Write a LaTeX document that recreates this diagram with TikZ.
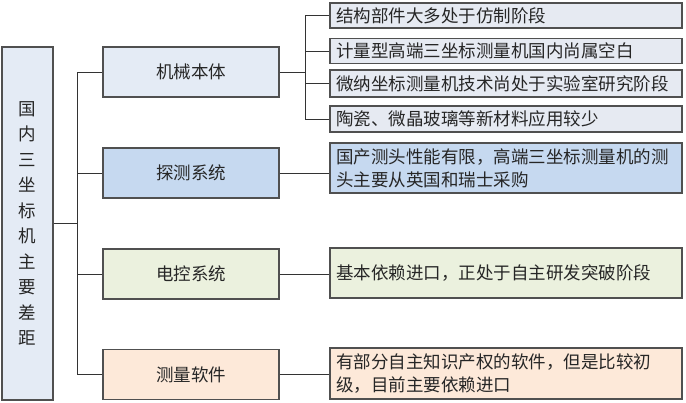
\documentclass[tikz,border=0pt]{standalone}
\usepackage{fontspec}
\setmainfont{Noto Sans CJK SC}
\definecolor{boxline}{HTML}{505050}
\definecolor{paleblue}{HTML}{E4EBF5}
\definecolor{midblue}{HTML}{C6D9F0}
\definecolor{palegreen}{HTML}{EBF1DE}
\definecolor{paleorange}{HTML}{FDE9D9}
\definecolor{palegrey}{HTML}{E6EAF2}
\begin{document}
\begin{tikzpicture}[x=1pt,y=-1pt,
		every node/.style={font=\fontsize{17.5}{23}\selectfont, text=black!85},
		box/.style={draw=boxline, line width=1.2pt, inner sep=0pt},
		midbox/.style={box, minimum width=176pt, minimum height=50pt},
		itembox/.style={box, minimum width=352pt, align=left, text width=340pt},
		link/.style={draw=black!80, line width=0.9pt}]
			\useasboundingbox (0,0) rectangle (686,403);
			% root
			\node[box, fill=paleblue, minimum width=51pt, minimum height=353pt,
				align=center, font=\fontsize{17.5}{25.5}\selectfont] (root) at (27.5,223.5)
				{国\\内\\三\\坐\\标\\机\\主\\要\\差\\距};
			% four parts
			\node[midbox, fill=paleblue] (body) at (191,72) {机械本体};
			\node[midbox, fill=midblue] (probe) at (191,173) {探测系统};
			\node[midbox, fill=palegreen] (ctrl) at (191,274) {电控系统};
			\node[midbox, fill=paleorange] (soft) at (191,374.5) {测量软件};
			% details
			\node[itembox, fill=palegrey, minimum height=25pt] (b1) at (506,15.5) {结构部件大多处于仿制阶段};
			\node[itembox, fill=palegrey, minimum height=25pt] (b2) at (506,51) {计量型高端三坐标测量机国内尚属空白};
			\node[itembox, fill=palegrey, minimum height=27pt] (b3) at (506,83.5) {微纳坐标测量机技术尚处于实验室研究阶段};
			\node[itembox, fill=palegrey, minimum height=26pt] (b4) at (506,119) {陶瓷、微晶玻璃等新材料应用较少};
			\node[itembox, fill=midblue, minimum height=50pt] (p1) at (506,168) {国产测头性能有限，高端三坐标测量机的测\\头主要从英国和瑞士采购};
			\node[itembox, fill=palegreen, minimum height=50pt] (c1) at (506,273) {基本依赖进口，正处于自主研发突破阶段};
			\node[itembox, fill=paleorange, minimum height=51pt] (s1) at (506,373.5) {有部分自主知识产权的软件，但是比较初\\级，目前主要依赖进口};
			% connectors
			\draw[link] (root.east) -- ++(24,0) coordinate (rj);
			\foreach \m in {body,probe,ctrl,soft}
				\draw[link] (\m.west) -| (rj);
			\draw[link] (body.east) -- ++(26,0) coordinate (bj);
			\foreach \r in {b1,b2,b3,b4}
				\draw[link] (\r.west) -| (bj);
			\draw[link] (probe.east) -- (p1.west |- probe.east);
			\draw[link] (ctrl.east) -- (c1.west |- ctrl.east);
			\draw[link] (soft.east) -- (s1.west |- soft.east);
		\end{tikzpicture}
\end{document}
